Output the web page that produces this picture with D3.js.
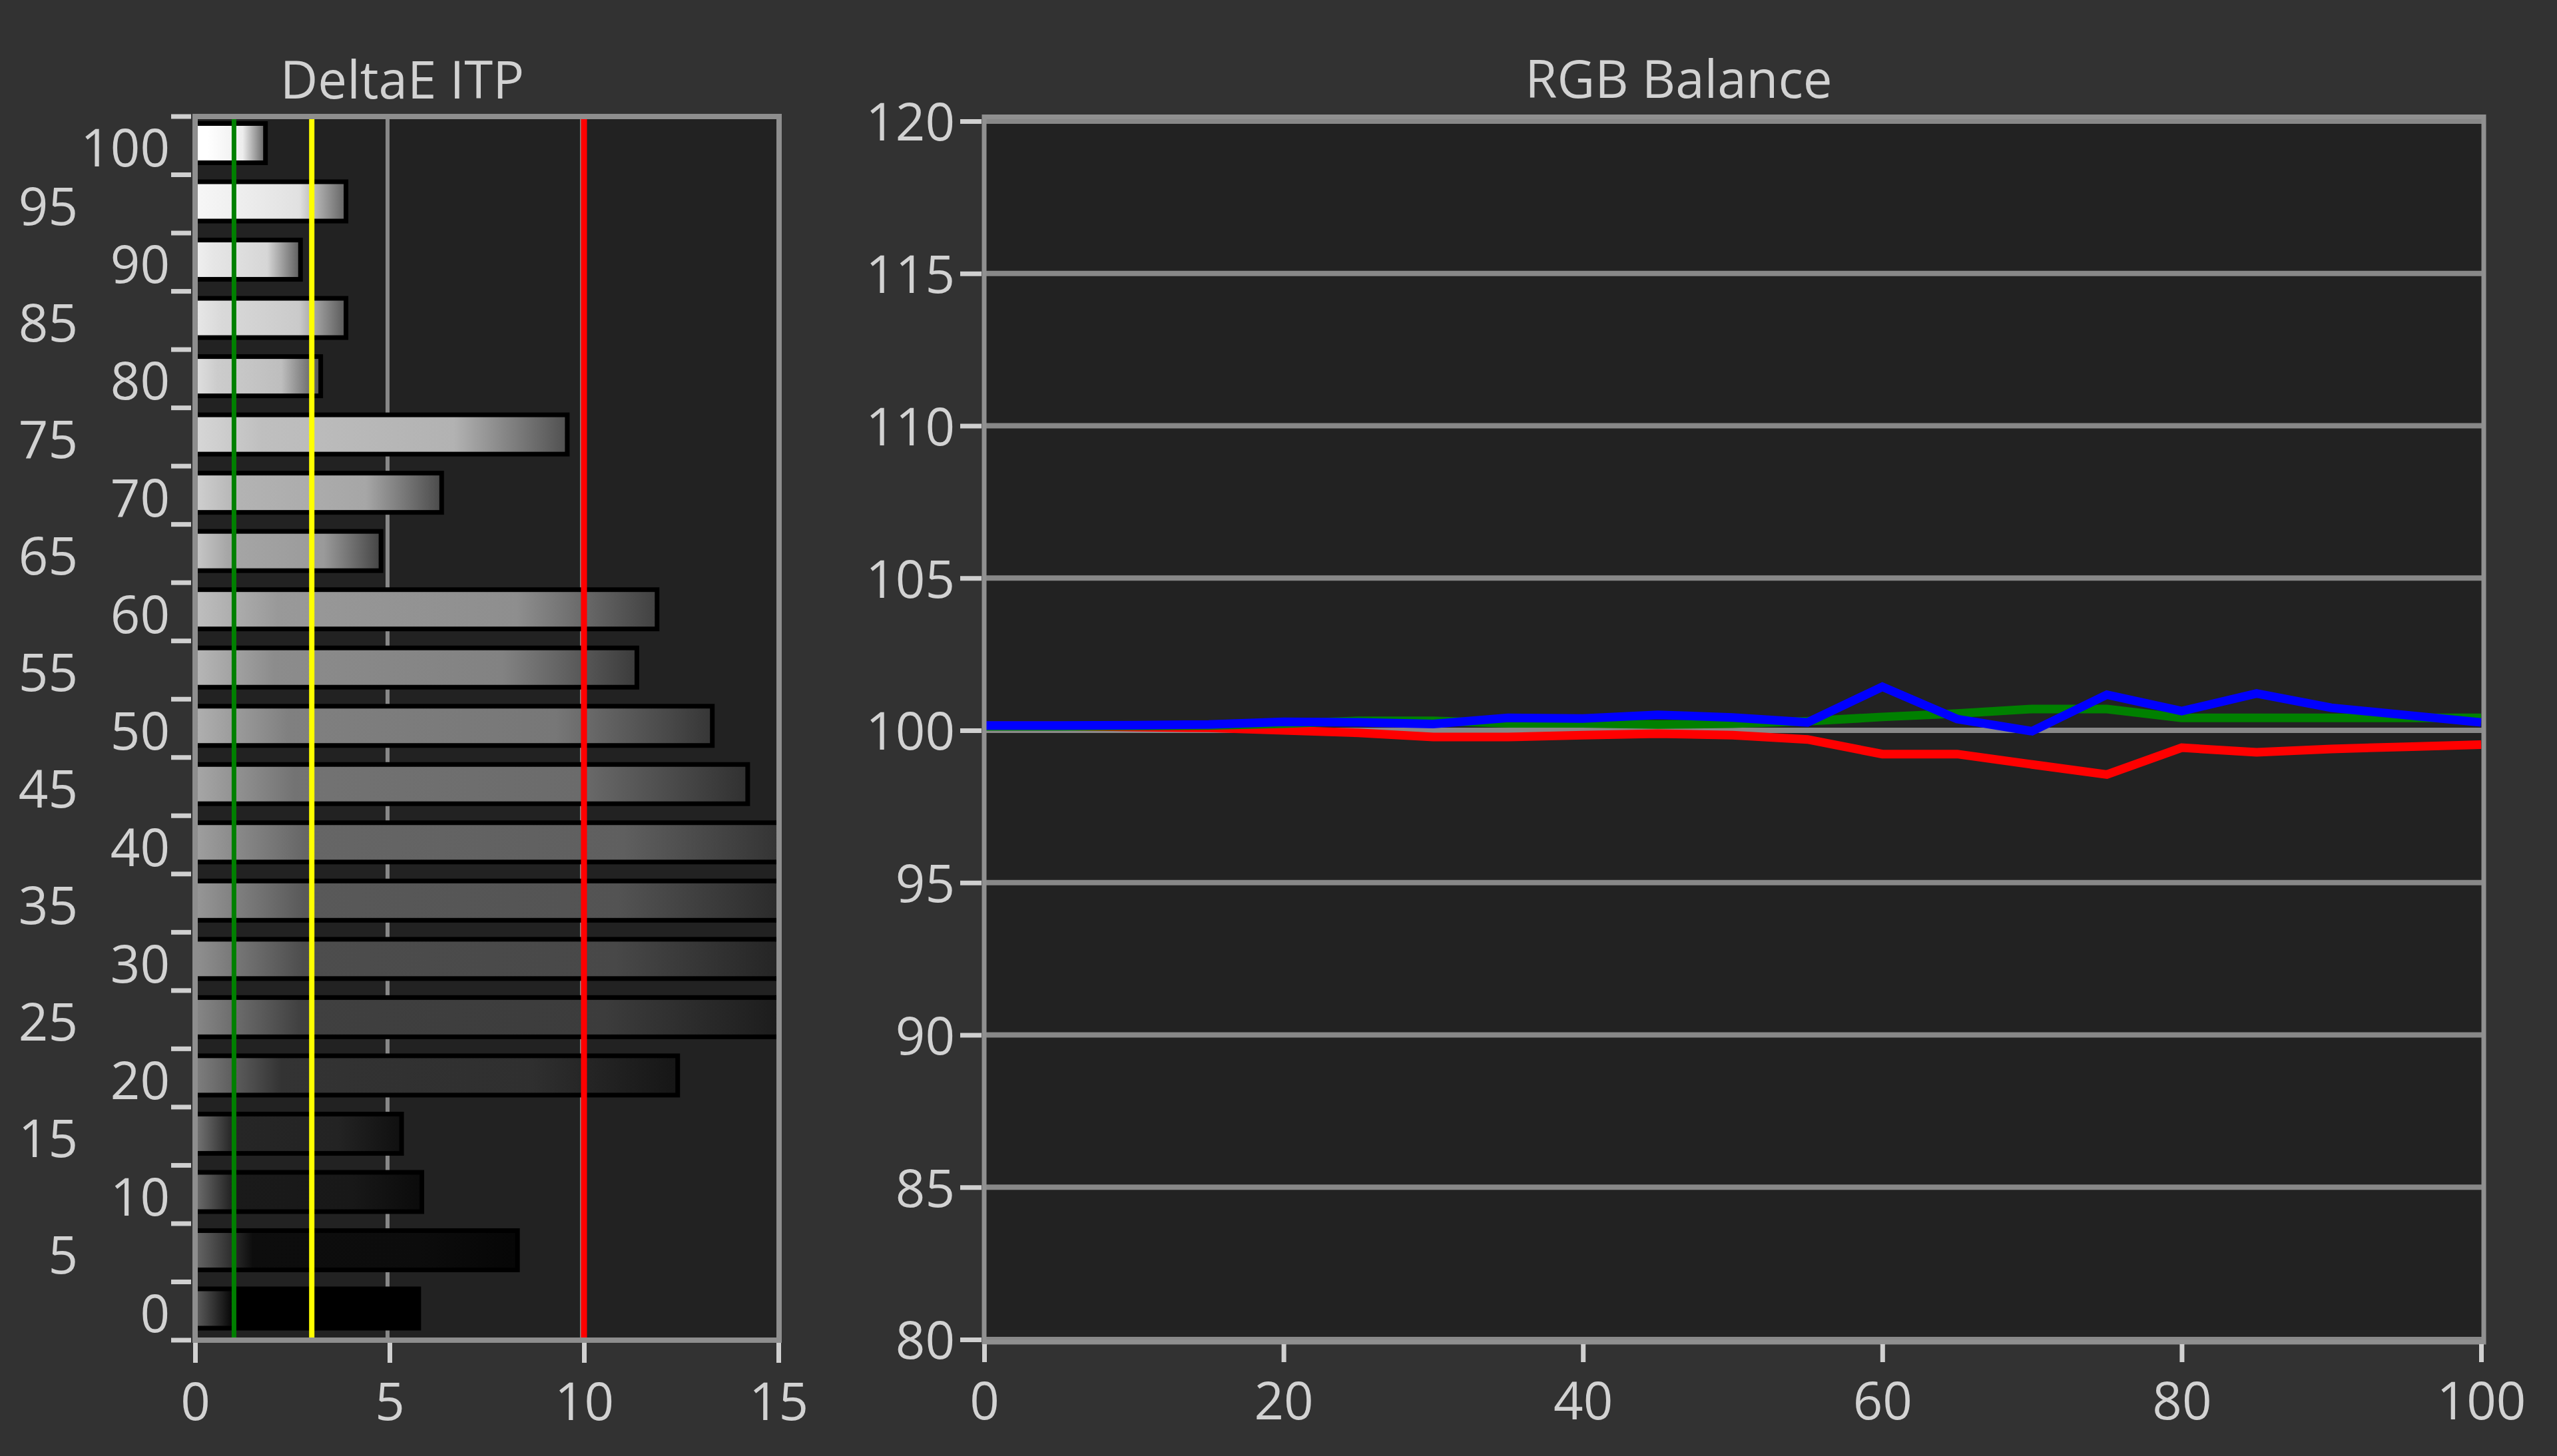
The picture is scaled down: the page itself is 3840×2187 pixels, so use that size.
<!DOCTYPE html>
<html><head><meta charset="utf-8">
<script src="https://cdn.jsdelivr.net/npm/d3@7"></script>
<style>html,body{margin:0;padding:0;background:#323232;} svg{display:block}</style>
</head><body>
<svg id="chart" width="3840" height="2187"></svg>
<script>
// ---------- data ----------
const deltaCategories = ["100","95","90","85","80","75","70","65","60","55","50","45","40","35","30","25","20","15","10","5","0"];
const deltaValues = [1.81,3.88,2.71,3.88,3.23,9.57,6.34,4.78,11.88,11.36,13.30,14.21,15.8,15.6,15.5,15.1,12.41,5.31,5.83,8.29,5.75];
const deltaXTicks = [0,5,10,15];
const deltaGrid = [5,10];
const thresholdValues = [1,3,10];
const rgbX = [0,5,10,15,20,25,30,35,40,45,50,55,60,65,70,75,80,85,90,95,100];
const redValues   = [100.15,100.15,100.11,100.08,100.00,99.92,99.78,99.78,99.84,99.89,99.84,99.70,99.22,99.22,98.88,98.55,99.43,99.28,99.39,99.46,99.53];
const greenValues = [100.13,100.13,100.14,100.16,100.22,100.31,100.31,100.23,100.23,100.19,100.22,100.30,100.44,100.55,100.70,100.70,100.41,100.41,100.41,100.41,100.41];
const blueValues  = [100.16,100.16,100.17,100.19,100.28,100.26,100.21,100.41,100.39,100.51,100.42,100.26,101.43,100.37,99.97,101.17,100.63,101.21,100.74,100.50,100.26];
const rgbYTicks = [80,85,90,95,100,105,110,115,120];
const rgbXTicks = [0,20,40,60,80,100];
const titles = ["DeltaE ITP","RGB Balance"];

// ---------- styles ----------
const thresholdColors = ["#008000","#ffff00","#ff0000"];
const thresholdWidths = [7,8,9];
const seriesColors = ["#ff0000","#008000","#0000ff"];
const textColor = "#d2d2d2";
const font = "'Open Sans','Noto Sans','DejaVu Sans',sans-serif";
const fontSize = 78;

const svg = d3.select("#chart");
svg.append("rect").attr("width",3840).attr("height",2187).attr("fill","#323232");
const defs = svg.append("defs");

// ================= Left chart: DeltaE ITP =================
const xD = d3.scaleLinear().domain([0,15]).range([293,1169]);
const yD = d3.scaleBand().domain(deltaCategories).range([175,2013]);
const L = {x0:293, x1:1170, y0:175, y1:2013};

svg.append("rect").attr("x",L.x0).attr("y",L.y0).attr("width",L.x1-L.x0).attr("height",L.y1-L.y0).attr("fill","#222222");

defs.append("clipPath").attr("id","clipL").append("rect")
  .attr("x",L.x0).attr("y",L.y0).attr("width",L.x1-L.x0).attr("height",L.y1-L.y0);

// grid
svg.append("g").selectAll("line").data(deltaGrid).join("line")
  .attr("x1",d=>xD(d)-3).attr("x2",d=>xD(d)-3).attr("y1",L.y0).attr("y2",L.y1)
  .attr("stroke","#888").attr("stroke-width",6);

// gradients
deltaCategories.forEach((c,i)=>{
  const lv = Math.round(+c/100*255);
  const left = Math.min(255, Math.round(95 + 0.63*lv));
  const g = d3.rgb;
  const grad = defs.append("linearGradient").attr("id","bg"+i).attr("x1",0).attr("x2",1).attr("y1",0).attr("y2",0);
  [[0,left],[0.18,lv],[0.7,Math.round(lv*0.93)],[1,Math.round(lv*0.43)]].forEach(([o,v])=>{
    grad.append("stop").attr("offset",o).attr("stop-color",g(v,v,v).formatHex());
  });
});

const bars = svg.append("g").attr("clip-path","url(#clipL)");
const barData = deltaCategories.map((c,i)=>({c, v:deltaValues[i], i}));
bars.selectAll("rect.outer").data(barData).join("rect").attr("class","outer")
  .attr("x",xD(0)).attr("y",d=>yD(d.c)+7)
  .attr("width",d=>xD(d.v)+3.5-xD(0)).attr("height",66).attr("fill","#000");
bars.selectAll("rect.inner").data(barData).join("rect").attr("class","inner")
  .attr("x",xD(0)).attr("y",d=>yD(d.c)+14)
  .attr("width",d=>Math.max(0,xD(d.v)-3.5-xD(0))).attr("height",52)
  .attr("fill",d=>"url(#bg"+d.i+")");

// threshold lines
svg.append("g").selectAll("line").data(thresholdValues).join("line")
  .attr("x1",d=>xD(d)).attr("x2",d=>xD(d)).attr("y1",L.y0).attr("y2",L.y1)
  .attr("stroke",(d,i)=>thresholdColors[i]).attr("stroke-width",(d,i)=>thresholdWidths[i]);

// border
svg.append("rect").attr("x",L.x0).attr("y",L.y0).attr("width",L.x1-L.x0).attr("height",L.y1-L.y0)
  .attr("fill","none").attr("stroke","#8e8e8e").attr("stroke-width",8);

// y tick dashes at band boundaries
const bounds = deltaCategories.map(c=>yD(c)).concat([yD.range()[1]]);
svg.append("g").selectAll("line").data(bounds).join("line")
  .attr("x1",257).attr("x2",287).attr("y1",d=>d).attr("y2",d=>d)
  .attr("stroke","#d0d0d0").attr("stroke-width",7);

// y labels via axis
const yAxisL = svg.append("g").attr("transform","translate(287,0)")
  .call(d3.axisLeft(yD).tickSize(0).tickPadding(32));
yAxisL.select(".domain").remove();
yAxisL.selectAll("text")
  .attr("x",d=>(+d%10===0)?-32:-170)
  .attr("dy","0.38em").attr("transform","translate(0,2)");

// x axis
const xAxisL = svg.append("g").attr("transform","translate(0,2017)")
  .call(d3.axisBottom(xD).tickValues(deltaXTicks).tickSize(30).tickPadding(31).tickFormat(d3.format("d")));
xAxisL.select(".domain").remove();
xAxisL.selectAll("line").attr("stroke","#d0d0d0").attr("stroke-width",7);

// ================= Right chart: RGB Balance =================
const xR = d3.scaleLinear().domain([0,100]).range([1478,3726]);
const yR = d3.scaleLinear().domain([80,120]).range([2012,182]);
const R = {x0:1478, x1:3730, y0:175.5, y1:2016};

svg.append("rect").attr("x",R.x0).attr("y",R.y0).attr("width",R.x1-R.x0).attr("height",R.y1-R.y0).attr("fill","#222222");

svg.append("g").selectAll("line").data(rgbYTicks).join("line")
  .attr("x1",R.x0).attr("x2",R.x1).attr("y1",d=>yR(d)).attr("y2",d=>yR(d))
  .attr("stroke","#888").attr("stroke-width",8);

const series = [redValues, greenValues, blueValues];
const line = d3.line().x((d,i)=>xR(rgbX[i])).y(d=>yR(d));
svg.append("g").selectAll("path").data(series).join("path")
  .attr("d",line).attr("fill","none")
  .attr("stroke",(d,i)=>seriesColors[i]).attr("stroke-width",13)
  .attr("stroke-linejoin","miter").attr("stroke-miterlimit",10);

svg.append("rect").attr("x",R.x0).attr("y",R.y0).attr("width",R.x1-R.x0).attr("height",R.y1-R.y0)
  .attr("fill","none").attr("stroke","#909090").attr("stroke-width",7);

const yAxisR = svg.append("g").attr("transform","translate(1474,0)")
  .call(d3.axisLeft(yR).tickValues(rgbYTicks).tickSize(32).tickPadding(8).tickFormat(d3.format("d")));
yAxisR.select(".domain").remove();
yAxisR.selectAll("line").attr("stroke","#d0d0d0").attr("stroke-width",7);
yAxisR.selectAll("text").attr("dy","0.37em");

const xAxisR = svg.append("g").attr("transform","translate(0,2019)")
  .call(d3.axisBottom(xR).tickValues(rgbXTicks).tickSize(27).tickPadding(31).tickFormat(d3.format("d")));
xAxisR.select(".domain").remove();
xAxisR.selectAll("line").attr("stroke","#d0d0d0").attr("stroke-width",7);

// common text style
svg.selectAll(".tick text").attr("fill",textColor).attr("font-family",font).attr("font-size",fontSize);
[yAxisL,xAxisL,yAxisR,xAxisR].forEach(a=>a.attr("font-family",font).attr("font-size",fontSize));

// titles
svg.append("g").selectAll("text").data(titles).join("text")
  .attr("x",(d,i)=>[604,2521][i]).attr("y",(d,i)=>[148,147][i])
  .attr("text-anchor","middle").attr("fill",textColor)
  .attr("font-family",font).attr("font-size",fontSize)
  .text(d=>d);
</script>
</body></html>
